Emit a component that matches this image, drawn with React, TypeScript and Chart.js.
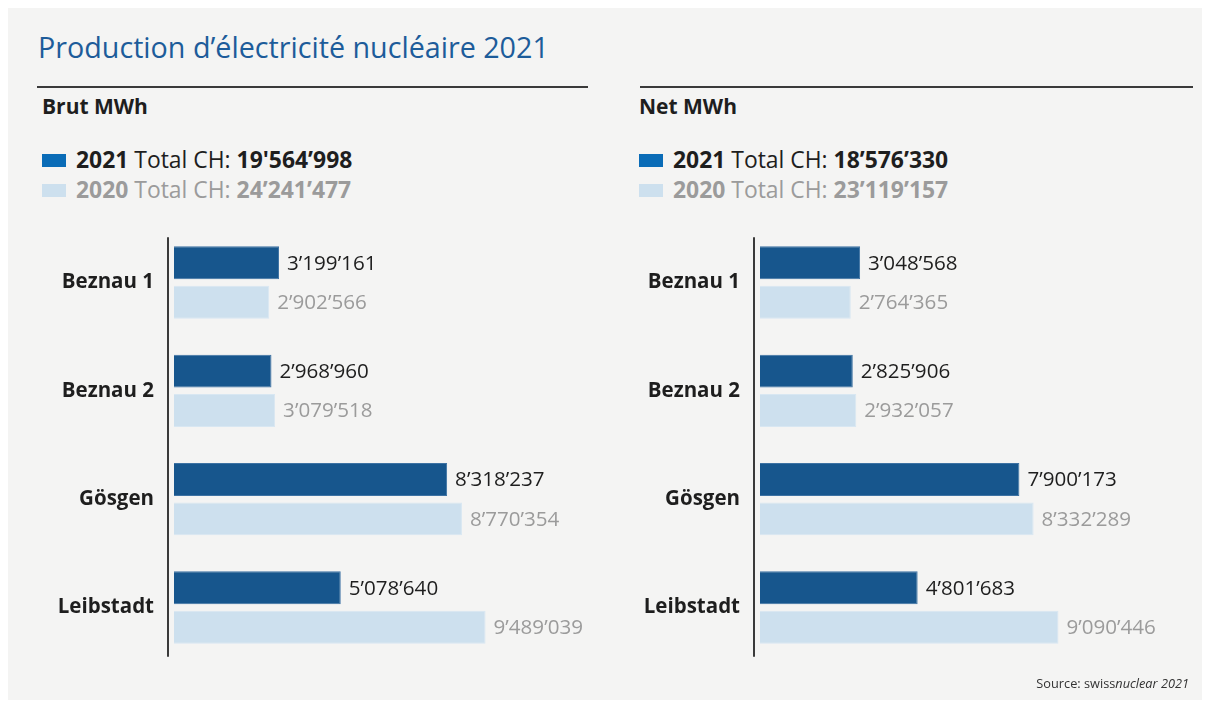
import React, { useEffect, useRef } from "react";
import { Chart, registerables } from "chart.js";

Chart.register(...registerables);

const categories = ["Beznau 1", "Beznau 2", "Gösgen", "Leibstadt"];
const brut2021 = [3199161, 2968960, 8318237, 5078640];
const brut2020 = [2902566, 3079518, 8770354, 9489039];
const net2021 = [3048568, 2825906, 7900173, 4801683];
const net2020 = [2764365, 2932057, 8332289, 9090446];
const seriesLabels = ["2021", "2020"];
const brutTotals = ["19'564’998", "24’241’477"];
const netTotals = ["18’576’330", "23’119’157"];
const xMax = 12000000;

const FONT = "'Open Sans', 'Noto Sans', sans-serif";
const DARK = "#17568d";
const LIGHT = "#cde0ee";
const LEGEND_DARK = "#0a6cb7";
const TEXT = "#1e1e1e";
const GREY = "#9b9b9b";
const BG = "#f4f4f3";

const fmt = (n: number) => String(n).replace(/\B(?=(\d{3})+(?!\d))/g, "’");

const valueLabels = {
  id: "valueLabels",
  afterDatasetsDraw(chart: any) {
    const ctx = chart.ctx;
    ctx.save();
    ctx.font = `20.6px ${FONT}`;
    ctx.textBaseline = "middle";
    ctx.textAlign = "left";
    chart.data.datasets.forEach((ds: any, i: number) => {
      const meta = chart.getDatasetMeta(i);
      ctx.fillStyle = i === 0 ? TEXT : GREY;
      meta.data.forEach((bar: any, j: number) => {
        ctx.fillText(fmt(ds.data[j]), bar.x + 8, bar.y + 1);
      });
    });
    ctx.restore();
  },
};

const axisLine = {
  id: "axisLine",
  afterDraw(chart: any) {
    const { ctx, chartArea } = chart;
    ctx.save();
    ctx.strokeStyle = "#3a3a3a";
    ctx.lineWidth = 2;
    ctx.beginPath();
    ctx.moveTo(chartArea.left - 6, chartArea.top + 9);
    ctx.lineTo(chartArea.left - 6, chartArea.bottom - 5);
    ctx.stroke();
    ctx.restore();
  },
};

const PAD_V = 34;
const AREA_H = 434;

function BarChart({ d2021, d2020, padRight }: { d2021: number[]; d2020: number[]; padRight: number }) {
  const ref = useRef<HTMLCanvasElement>(null);
  useEffect(() => {
    if (!ref.current) return;
    const chart = new Chart(ref.current, {
      type: "bar",
      data: {
        labels: categories,
        datasets: [
          {
            label: seriesLabels[0],
            data: d2021,
            backgroundColor: DARK,
            borderColor: "#3d72a3",
            borderWidth: 1,
            categoryPercentage: 0.728,
            barPercentage: 0.835,
          },
          {
            label: seriesLabels[1],
            data: d2020,
            backgroundColor: LIGHT,
            borderColor: "#d8e7f2",
            borderWidth: 1,
            categoryPercentage: 0.728,
            barPercentage: 0.835,
          },
        ],
      },
      options: {
        indexAxis: "y",
        responsive: false,
        animation: false,
        layout: { padding: { top: PAD_V, bottom: PAD_V, left: 0, right: padRight } },
        plugins: { legend: { display: false }, tooltip: { enabled: false } },
        scales: {
          x: { display: false, min: 0, max: xMax },
          y: {
            grid: { display: false, drawTicks: false },
            border: { display: false },
            ticks: { color: TEXT, padding: 20, font: { family: FONT, size: 20.5, weight: "bold", lineHeight: 1.4 } },
            afterFit: (s: any) => {
              s.width = 144;
            },
          },
        },
      } as any,
      plugins: [valueLabels, axisLine],
    });
    return () => chart.destroy();
  }, []);
  const h = AREA_H + 2 * PAD_V;
  return <canvas ref={ref} width={580} height={h} style={{ width: 580, height: h, display: "block" }} />;
}

function Legend({ totals, left }: { totals: string[]; left: number }) {
  const rows = [
    { color: LEGEND_DARK, text: TEXT, top: 138 },
    { color: LIGHT, text: GREY, top: 168 },
  ];
  return (
    <>
      {rows.map((r, i) => (
        <div
          key={i}
          style={{ position: "absolute", left, top: r.top, height: 28, lineHeight: "28px", fontSize: 22.9, color: r.text, whiteSpace: "nowrap", display: "flex", alignItems: "center" }}
        >
          <span style={{ display: "inline-block", width: 24, height: 13, background: r.color, marginRight: 10 }} />
          <b>{seriesLabels[i]}</b>
          <span>&nbsp;Total CH:&nbsp;</span>
          <b>{totals[i]}</b>
        </div>
      ))}
    </>
  );
}

export default function App() {
  useEffect(() => {
    document.documentElement.style.overflow = "hidden";
    document.body.style.overflow = "hidden";
  }, []);
  const abs = (l: number, t: number): React.CSSProperties => ({ position: "absolute", left: l, top: t, whiteSpace: "nowrap" });
  const chartTop = 228 - PAD_V - 8;
  return (
    <div style={{ position: "relative", width: 1200, height: 692, background: BG, fontFamily: FONT, overflow: "hidden" }}>
      <div style={{ ...abs(30, 21), fontSize: 28.7, lineHeight: "36px", color: "#1d5c9a" }}>
        Production d’électricité nucléaire 2021
      </div>
      <div style={{ position: "absolute", left: 29, top: 78, width: 551, height: 2, background: "#3a3a3a" }} />
      <div style={{ position: "absolute", left: 632, top: 78, width: 553, height: 2, background: "#3a3a3a" }} />
      <div style={{ ...abs(34, 84), fontSize: 21, lineHeight: "28px", fontWeight: "bold", color: TEXT }}>Brut MWh</div>
      <div style={{ ...abs(631, 84), fontSize: 21, lineHeight: "28px", fontWeight: "bold", color: TEXT }}>Net MWh</div>
      <Legend totals={brutTotals} left={34} />
      <Legend totals={netTotals} left={631} />
      <div style={{ position: "absolute", left: 22, top: chartTop }}>
        <BarChart d2021={brut2021} d2020={brut2020} padRight={42} />
      </div>
      <div style={{ position: "absolute", left: 608, top: chartTop }}>
        <BarChart d2021={net2021} d2020={net2020} padRight={42} />
      </div>
      <div style={{ position: "absolute", right: 19, top: 666, fontSize: 12.75, lineHeight: "18px", color: "#333" }}>
        Source: swiss<i>nuclear 2021</i>
      </div>
    </div>
  );
}
